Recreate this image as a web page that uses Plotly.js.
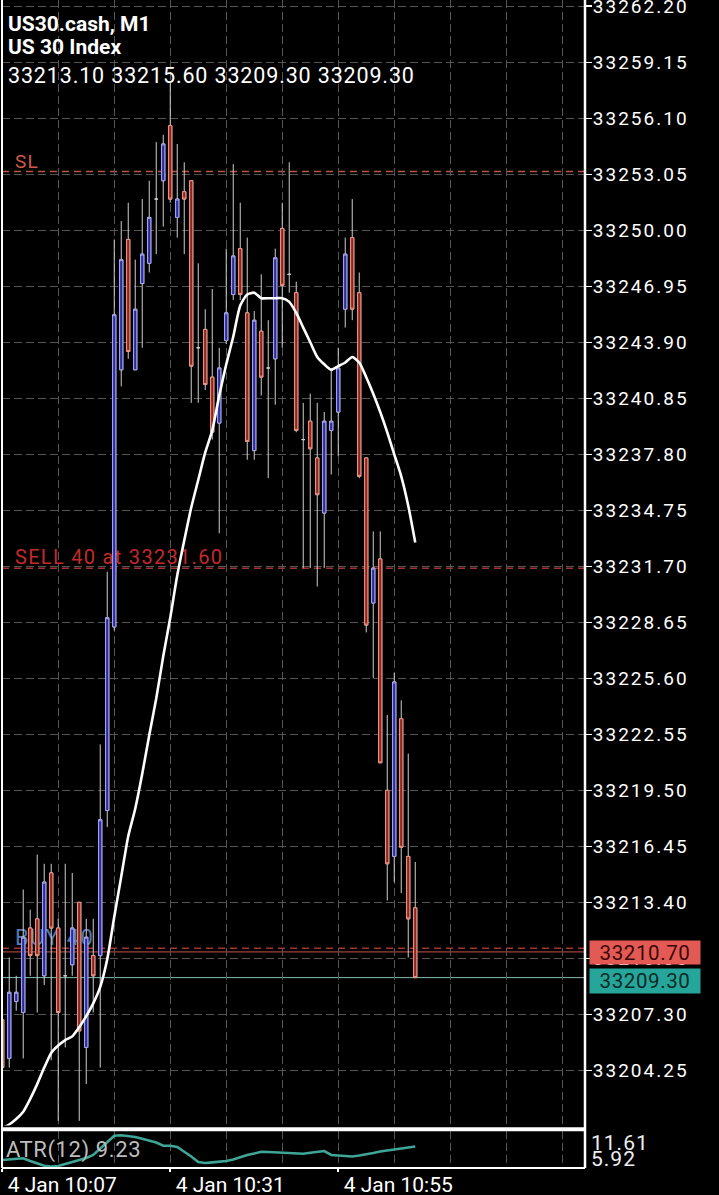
<!DOCTYPE html>
<html>
<head>
<meta charset="utf-8">
<script src="https://cdn.plot.ly/plotly-3.0.1.min.js"></script>
<style>
html,body{margin:0;padding:0;background:#000;overflow:hidden;}
#chart{width:719px;height:1195px;}
.ytick text{letter-spacing:2px;}
.shape-label{letter-spacing:1.3px;}
g.annotation[data-index="2"] text{letter-spacing:0.85px;}
g.annotation[data-index="3"] text,g.annotation[data-index="4"] text{letter-spacing:0.6px;}
g.annotation[data-index="5"] text{letter-spacing:0.6px;}
g.annotation[data-index="6"] text,g.annotation[data-index="7"] text{letter-spacing:1px;}
</style>
</head>
<body>
<div id="chart"></div>
<script>
// ---------------- data ----------------
const symbol = 'US30.cash, M1';
const description = 'US 30 Index';
const chartDate = '2023-01-04';
const times = ['10:07','10:08','10:09','10:10','10:11','10:12','10:13','10:14','10:15','10:16',
  '10:17','10:18','10:19','10:20','10:21','10:22','10:23','10:24','10:25','10:26',
  '10:27','10:28','10:29','10:30','10:31','10:32','10:33','10:34','10:35','10:36',
  '10:37','10:38','10:39','10:40','10:41','10:42','10:43','10:44','10:45','10:46',
  '10:47','10:48','10:49','10:50','10:51','10:52','10:53','10:54','10:55','10:56',
  '10:57','10:58','10:59','11:00','11:01','11:02','11:03','11:04','11:05','11:06'];
const labelTimes = ['10:07','10:31','10:55'];

const opens = [33207.0,33204.9,33208.0,33207.4,33212.0,33212.5,33209.4,33215.0,33212.0,33209.4,
  33210.0,33213.4,33205.5,33210.5,33210.5,33218.4,33228.4,33242.4,33249.5,33242.4,
  33247.1,33248.2,33251.7,33252.7,33255.7,33250.7,33252.1,33252.7,33243.6,33244.6,
  33242.0,33239.5,33244.0,33246.5,33249.0,33245.5,33238.0,33244.5,33242.5,33243.0,
  33250.1,33247.6,33246.6,33238.6,33239.6,33237.6,33234.6,33239.1,33240.1,33245.7,
  33249.6,33246.6,33237.6,33229.7,33232.1,33219.5,33215.9,33223.4,33215.9,33213.1];
const highs = [33208.4,33210.4,33209.4,33214.1,33213.0,33216.0,33215.5,33215.5,33212.5,33215.5,
  33215.0,33213.4,33212.5,33212.5,33222.0,33231.4,33249.5,33250.5,33251.5,33248.4,
  33251.7,33252.7,33254.8,33255.2,33258.1,33254.7,33253.7,33252.7,33248.2,33245.7,
  33246.8,33243.6,33249.0,33253.6,33251.5,33249.6,33245.6,33247.6,33245.1,33249.0,
  33251.5,33253.7,33247.2,33240.6,33241.1,33240.6,33240.1,33242.5,33243.6,33249.6,
  33251.7,33247.7,33237.6,33233.6,33233.6,33223.6,33225.9,33224.4,33221.5,33215.6];
const lows = [33204.4,33204.4,33207.5,33204.9,33209.4,33207.4,33208.9,33204.8,33201.5,33205.5,
  33209.4,33201.5,33203.5,33207.4,33204.4,33217.5,33228.2,33241.5,33243.0,33242.4,
  33243.6,33247.7,33248.7,33250.2,33251.5,33249.6,33248.7,33240.6,33240.6,33241.3,
  33238.6,33233.5,33243.8,33246.2,33246.2,33237.5,33237.5,33241.0,33236.5,33240.5,
  33243.6,33246.6,33239.0,33231.6,33231.6,33230.6,33231.6,33236.7,33237.7,33244.7,
  33245.1,33236.5,33228.1,33225.6,33221.0,33213.5,33214.5,33213.9,33210.4,33209.3];
const closes = [33204.4,33208.5,33208.5,33211.5,33210.5,33210.5,33214.5,33212.0,33207.4,33209.4,
  33212.0,33206.4,33211.5,33209.4,33217.9,33228.9,33245.4,33248.4,33243.4,33245.7,
  33248.7,33250.7,33251.7,33254.7,33251.7,33251.7,33251.7,33242.6,33243.6,33241.6,
  33239.0,33242.5,33245.5,33248.6,33246.5,33238.5,33245.1,33242.0,33242.5,33248.5,
  33247.0,33247.6,33239.1,33238.6,33238.1,33235.6,33239.6,33239.6,33242.5,33248.7,
  33245.7,33236.6,33228.5,33231.6,33221.0,33215.5,33225.4,33216.4,33212.5,33209.3];

const maValues = [33201.1,33201.3,33201.6,33202.0,33202.7,33203.5,33204.4,33205.2,33205.6,33205.9,
  33206.1,33206.6,33207.2,33207.9,33208.8,33210.3,33212.6,33214.8,33217.0,33218.5,
  33220.4,33222.5,33224.5,33226.8,33228.9,33231.2,33233.1,33234.9,33236.4,33237.9,
  33239.1,33241.0,33242.7,33244.2,33245.9,33246.5,33246.6,33246.3,33246.3,33246.3,
  33246.3,33246.1,33245.5,33244.7,33243.9,33243.1,33242.7,33242.4,33242.6,33242.8,
  33243.1,33242.8,33242.0,33241.1,33240.1,33239.0,33237.8,33236.6,33235.0,33233.0];

const atrPeriod = 12;
const atrValues = [7.15,7.23,7.30,7.41,6.99,6.61,6.26,6.15,6.23,6.53,
  6.84,7.15,7.46,7.92,8.92,9.92,10.89,10.96,10.87,10.69,
  10.43,10.15,9.84,9.35,9.35,9.15,8.46,7.69,6.84,6.69,
  6.78,6.89,6.99,7.24,7.61,7.92,8.15,8.41,8.38,8.33,
  8.23,8.18,8.15,8.12,8.27,8.43,8.53,7.92,7.87,7.77,
  7.69,7.83,8.00,8.23,8.46,8.61,8.77,8.95,9.04,9.23];
const atrScale = [5.92, 11.61];

const priceRange = [33201.25, 33262.54];
const priceTick0 = 33204.25;
const priceStep = 3.05;

const slPrice = 33253.2;
const sellLots = 40;
const sellPrice = 33231.60;
const buyLots = 40;
const buyPrice = 33210.9;
const askPrice = 33210.70;
const bidPrice = 33209.30;

const xRange = [chartDate + ' 10:06:58', chartDate + ' 11:30:15'];
const xTick0 = chartDate + ' 10:07';

// ---------------- build ----------------
const x = times.map(t => chartDate + ' ' + t);
const isDoji = opens.map((o, i) => o === closes[i]);
const bodyOpen = opens.map((o, i) => isDoji[i] ? null : o);
const bodyClose = closes.map((c, i) => isDoji[i] ? null : c);
const bodyHigh = opens.map((o, i) => isDoji[i] ? null : Math.max(o, closes[i]));
const bodyLow = opens.map((o, i) => isDoji[i] ? null : Math.min(o, closes[i]));

const wickColor = '#cfcfcf';
const gridColor = '#555555';
const gridDash = '8px,4px';

const traces = [
  {
    type: 'candlestick', x: x, open: opens, high: highs, low: lows, close: closes,
    xaxis: 'x', yaxis: 'y', whiskerwidth: 0, showlegend: false, hoverinfo: 'skip',
    increasing: {line: {color: wickColor, width: 1}, fillcolor: '#2a2aa0'},
    decreasing: {line: {color: wickColor, width: 1}, fillcolor: '#8e2420'}
  },
  {
    type: 'candlestick', x: x, open: bodyOpen, high: bodyHigh, low: bodyLow, close: bodyClose,
    xaxis: 'x', yaxis: 'y', whiskerwidth: 0, showlegend: false, hoverinfo: 'skip',
    increasing: {line: {color: '#a6a6f0', width: 1}, fillcolor: '#2a2aa0'},
    decreasing: {line: {color: '#f0927e', width: 1}, fillcolor: '#8e2420'}
  },
  {
    type: 'scatter', mode: 'lines', x: x, y: maValues, xaxis: 'x', yaxis: 'y',
    line: {color: '#ffffff', width: 2.6, shape: 'spline', smoothing: 0.6},
    showlegend: false, hoverinfo: 'skip', cliponaxis: true
  },
  {
    type: 'scatter', mode: 'lines', x: x, y: atrValues, xaxis: 'x', yaxis: 'y2',
    line: {color: '#3fa597', width: 2.6},
    showlegend: false, hoverinfo: 'skip'
  }
];

const plotW = 719 - 2 - 134;   // 583
const plotH = 1195 - 0 - 27;   // 1168
const px2x = px => (px - 2) / plotW;
const py2y = py => 1 - py / plotH;
const mainBottomPx = 1125.43;

function orderLine(price, color, dash, width) {
  return {type: 'line', xref: 'paper', x0: 0, x1: 1, yref: 'y', y0: price, y1: price,
    layer: 'below', line: {color: color, width: width, dash: dash}};
}
function orderLabel(price, text, color, size) {
  return {type: 'line', xref: 'paper', x0: px2x(15), x1: 0.7, yref: 'y', y0: price, y1: price,
    layer: 'below', line: {color: 'rgba(0,0,0,0)', width: 1},
    label: {text: text, textposition: 'start', yanchor: 'bottom', padding: 0,
      font: {family: 'Roboto', size: size, color: color}}};
}

const shapes = [
  orderLine(slPrice, '#b8564a', '7px,5px', 1.5),
  orderLine(sellPrice, '#a3332e', '7px,5px', 1.5),
  orderLine(buyPrice, '#a3332e', '7px,5px', 1.5),
  orderLine(askPrice, '#c4544c', 'solid', 1),
  orderLine(bidPrice, '#86b9b1', 'solid', 1),
  orderLabel(slPrice, 'SL', '#cf5a4a', 19),
  orderLabel(sellPrice, 'SELL ' + sellLots + ' at ' + sellPrice.toFixed(2), '#c52a2a', 20),
  orderLabel(buyPrice, 'BUY ' + buyLots, '#5478b0', 22),
  // frame
  {type: 'line', xref: 'paper', yref: 'paper', x0: 0, x1: 0, y0: 0, y1: 1, line: {color: '#fff', width: 2}},
  {type: 'line', xref: 'paper', yref: 'paper', x0: 1, x1: 1, y0: 0, y1: 1, line: {color: '#fff', width: 2.5}},
  {type: 'line', xref: 'paper', yref: 'paper', x0: 0, x1: 1, y0: py2y(1129.3), y1: py2y(1129.3), line: {color: '#fff', width: 4}},
  {type: 'line', xref: 'paper', yref: 'paper', x0: 0, x1: 1, y0: 0, y1: 0, line: {color: '#fff', width: 2}}
];

const last = opens.length - 1;
const ohlcText = [opens[last], highs[last], lows[last], closes[last]].map(v => v.toFixed(2)).join(' ');

const annotations = [
  {xref: 'paper', yref: 'paper', x: px2x(6), y: py2y(24), xanchor: 'left', yanchor: 'middle', align: 'left',
    text: '<b>' + symbol + '</b>', showarrow: false, font: {family: 'Roboto', size: 21, color: '#fff'}},
  {xref: 'paper', yref: 'paper', x: px2x(6), y: py2y(47.5), xanchor: 'left', yanchor: 'middle', align: 'left',
    text: '<b>' + description + '</b>', showarrow: false, font: {family: 'Roboto', size: 21, color: '#fff'}},
  {xref: 'paper', yref: 'paper', x: px2x(6), y: py2y(75.5), xanchor: 'left', yanchor: 'middle', align: 'left',
    text: ohlcText, showarrow: false, font: {family: 'Roboto', size: 21.5, color: '#fff'}},
  {xref: 'paper', yref: 'y', x: px2x(589), y: askPrice, yshift: -1, xanchor: 'left', yanchor: 'middle',
    text: askPrice.toFixed(2), showarrow: false, bgcolor: '#e35a55', width: 110, height: 23, borderpad: 0,
    font: {family: 'Roboto', size: 20.5, color: '#3a0606'}},
  {xref: 'paper', yref: 'y', x: px2x(589), y: bidPrice, yshift: -3, xanchor: 'left', yanchor: 'middle',
    text: bidPrice.toFixed(2), showarrow: false, bgcolor: '#26a69a', width: 110, height: 24, borderpad: 0,
    font: {family: 'Roboto', size: 20.5, color: '#062a26'}},
  {xref: 'paper', yref: 'paper', x: px2x(4), y: py2y(1150), xanchor: 'left', yanchor: 'middle', align: 'left',
    text: 'ATR(' + atrPeriod + ') ' + atrValues[last].toFixed(2), showarrow: false,
    font: {family: 'Roboto', size: 22, color: '#bdbdbd'}},
  {xref: 'paper', yref: 'paper', x: px2x(589), y: py2y(1142.5), xanchor: 'left', yanchor: 'middle', align: 'left',
    text: atrScale[1].toFixed(2), showarrow: false, font: {family: 'Roboto', size: 21, color: '#eeeeee'}},
  {xref: 'paper', yref: 'paper', x: px2x(589), y: py2y(1159), xanchor: 'left', yanchor: 'middle', align: 'left',
    text: atrScale[0].toFixed(2), showarrow: false, font: {family: 'Roboto', size: 21, color: '#eeeeee'}}
];

const layout = {
  width: 719, height: 1195,
  margin: {l: 2, r: 134, t: 0, b: 27, pad: 0},
  paper_bgcolor: '#000', plot_bgcolor: '#000',
  font: {family: 'Roboto', color: '#fff'},
  showlegend: false, hovermode: false, dragmode: false,
  boxgap: 0.35,
  xaxis: {
    type: 'date', domain: [0, 1], anchor: 'y2', range: xRange,
    tickmode: 'array', tickvals: labelTimes.map(t => chartDate + ' ' + t), tickformat: '%-d %b %H:%M',
    ticks: 'outside', ticklen: 3, tickwidth: 1.5, tickcolor: '#fff',
    tickfont: {family: 'Roboto', size: 21, color: '#fff'}, ticklabelshift: 60, ticklabelstandoff: -5,
    ticklabeloverflow: 'allow',
    showgrid: true, gridcolor: gridColor, griddash: gridDash, gridwidth: 1,
    minor: {tickmode: 'linear', tick0: xTick0, dtick: 8 * 60 * 1000, showgrid: true, gridcolor: gridColor, griddash: gridDash, gridwidth: 1, ticks: ''},
    zeroline: false, showline: false, rangeslider: {visible: false}, fixedrange: true
  },
  yaxis: {
    domain: [(plotH - mainBottomPx) / plotH, 1], anchor: 'x', side: 'right', range: priceRange,
    tick0: priceTick0, dtick: priceStep, tickformat: '.2f',
    ticks: 'outside', ticklen: 6, tickwidth: 1.5, tickcolor: '#fff',
    tickfont: {family: 'Roboto', size: 19, color: '#fff'}, ticklabelstandoff: -3,
    ticklabeloverflow: 'allow',
    showgrid: true, gridcolor: gridColor, griddash: gridDash, gridwidth: 1,
    zeroline: false, showline: false, fixedrange: true
  },
  yaxis2: {
    domain: [0, 37 / plotH], anchor: 'x', side: 'right', range: atrScale,
    showticklabels: false, ticks: '', showgrid: false, zeroline: false, showline: false, fixedrange: true
  },
  shapes: shapes,
  annotations: annotations
};

Plotly.newPlot('chart', traces, layout, {staticPlot: true, displayModeBar: false});
</script>
</body>
</html>
